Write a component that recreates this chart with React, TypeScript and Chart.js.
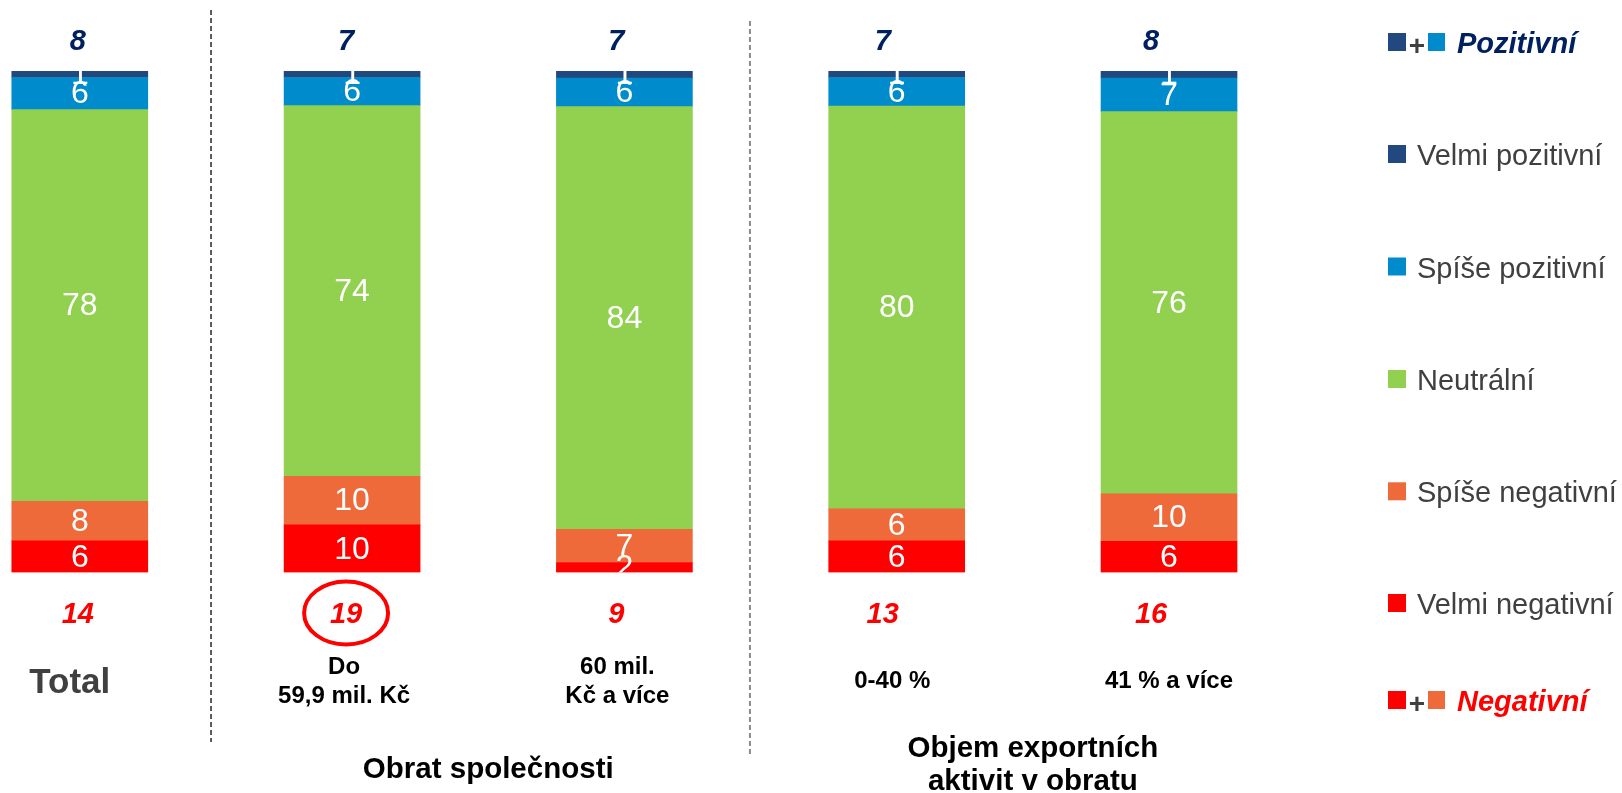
import React, { useEffect, useRef } from "react";
import { Chart, registerables } from "chart.js";

Chart.register(...registerables);

// ---------- data ----------
const categories: string[][] = [
  ["Total"],
  ["Do", "59,9 mil. Kč"],
  ["60 mil.", "Kč a více"],
  ["0-40 %"],
  ["41 % a více"],
];
const velmiPozitivni = [1.3, 1.3, 1.4, 1.3, 1.4];
const spisePozitivni = [6.4, 5.6, 5.7, 5.7, 6.7];
const neutralni = [78.1, 73.9, 84.3, 80.3, 76.2];
const spiseNegativni = [7.9, 9.7, 6.6, 6.4, 9.5];
const velmiNegativni = [6.3, 9.5, 2.0, 6.3, 6.2];

const groupLabels: string[][] = [["Obrat společnosti"], ["Objem exportních", "aktivit v obratu"]];
const groupMembers: number[][] = [[1, 2], [3, 4]];
const circledNegative = [1];

// ---------- styles ----------
const C_VPOS = "#22497F";
const C_SPOS = "#008CCC";
const C_NEU = "#92D050";
const C_SNEG = "#EE6A3A";
const C_VNEG = "#FF0000";
const C_NAVY = "#002060";
const C_GRAY = "#404040";
const FONT = '"Liberation Sans", Arial, Helvetica, sans-serif';

const seriesDefs = [
  { label: "Velmi negativní", values: velmiNegativni, color: C_VNEG },
  { label: "Spíše negativní", values: spiseNegativni, color: C_SNEG },
  { label: "Neutrální", values: neutralni, color: C_NEU },
  { label: "Spíše pozitivní", values: spisePozitivni, color: C_SPOS },
  { label: "Velmi pozitivní", values: velmiPozitivni, color: C_VPOS },
];

const legendItems = [
  { label: "Pozitivní", swatches: [C_VPOS, C_SPOS], total: C_NAVY },
  { label: "Velmi pozitivní", swatches: [C_VPOS] },
  { label: "Spíše pozitivní", swatches: [C_SPOS] },
  { label: "Neutrální", swatches: [C_NEU] },
  { label: "Spíše negativní", swatches: [C_SNEG] },
  { label: "Velmi negativní", swatches: [C_VNEG] },
  { label: "Negativní", swatches: [C_VNEG, C_SNEG], total: C_VNEG },
];
const legendRows = [42, 154, 266.5, 379, 491.3, 603, 700];
const totalShift = [-2, -6, -8, -14, -18];
const catShift = [-10, -8, -7, -4.5, 0];
const separators = [
  { at: 0.482, top: 10, bottom: 742, color: "#595959" },
  { at: 2.461, top: 21, bottom: 755, color: "#8C8C8C" },
];

function text(
  ctx: CanvasRenderingContext2D,
  s: string,
  x: number,
  y: number,
  font: string,
  color: string,
  align: CanvasTextAlign = "center"
) {
  ctx.save();
  ctx.font = font;
  ctx.fillStyle = color;
  ctx.textAlign = align;
  ctx.textBaseline = "alphabetic";
  ctx.fillText(s, x, y);
  ctx.restore();
}

const overlay = {
  id: "overlay",
  afterDatasetsDraw(chart: any) {
    const ctx: CanvasRenderingContext2D = chart.ctx;
    const xs = chart.scales.x;
    const area = chart.chartArea;

    // segment labels (clipped to plot area)
    ctx.save();
    ctx.beginPath();
    ctx.rect(area.left, area.top, area.right - area.left, area.bottom - area.top);
    ctx.clip();
    ctx.font = `32px ${FONT}`;
    ctx.fillStyle = "#FFFFFF";
    ctx.textAlign = "center";
    ctx.textBaseline = "middle";
    chart.data.datasets.forEach((ds: any, di: number) => {
      const meta = chart.getDatasetMeta(di);
      meta.data.forEach((el: any, i: number) => {
        const p = el.getProps(["x", "y", "base"], true);
        const v = ds.data[i].y;
        ctx.fillText(String(Math.round(v)), p.x, (p.y + p.base) / 2 + 1);
      });
    });
    ctx.restore();

    // separators
    separators.forEach((s) => {
      const x = xs.getPixelForValue(s.at);
      ctx.save();
      ctx.strokeStyle = s.color;
      ctx.lineWidth = 2;
      ctx.setLineDash([5, 3]);
      ctx.beginPath();
      ctx.moveTo(x, s.top);
      ctx.lineTo(x, s.bottom);
      ctx.stroke();
      ctx.restore();
    });

    categories.forEach((cat, i) => {
      const cx = xs.getPixelForValue(i);
      const pos = velmiPozitivni[i] + spisePozitivni[i];
      const neg = velmiNegativni[i] + spiseNegativni[i];
      const tx = cx + totalShift[i];
      text(ctx, String(Math.round(pos)), tx, 49.5, `italic bold 29px ${FONT}`, C_NAVY);
      text(ctx, String(Math.round(neg)), tx, 623, `italic bold 29px ${FONT}`, C_VNEG);
      if (circledNegative.includes(i)) {
        ctx.save();
        ctx.strokeStyle = C_VNEG;
        ctx.lineWidth = 4;
        ctx.beginPath();
        ctx.ellipse(tx, 613, 42, 31.5, 0, 0, Math.PI * 2);
        ctx.stroke();
        ctx.restore();
      }
      const lx = cx + catShift[i];
      if (i === 0) {
        text(ctx, cat[0], lx, 692.5, `bold 35px ${FONT}`, C_GRAY);
      } else {
        cat.forEach((line, j) => {
          const y = 688 + (j - (cat.length - 1) / 2) * 29;
          text(ctx, line, lx, y, `bold 24px ${FONT}`, "#000000");
        });
      }
    });

    // group labels
    groupLabels.forEach((lines, g) => {
      const [a, b] = groupMembers[g];
      const gx = (xs.getPixelForValue(a) + xs.getPixelForValue(b)) / 2;
      const startY = lines.length === 1 ? 778 : 757;
      lines.forEach((line, j) => {
        text(ctx, line, gx, startY + j * 33, `bold 29.5px ${FONT}`, "#000000");
      });
    });

    // legend
    const LX = 1388;
    const SQ = 18;
    legendItems.forEach((it, k) => {
      const cy = legendRows[k];
      if (it.swatches.length === 2) {
        ctx.fillStyle = it.swatches[0];
        ctx.fillRect(LX, cy - 9, SQ, SQ);
        text(ctx, "+", LX + 29, cy + 13, `bold 28px ${FONT}`, C_GRAY);
        ctx.fillStyle = it.swatches[1];
        ctx.fillRect(LX + 40, cy - 9, 17, SQ);
        text(ctx, it.label, LX + 69, cy + 11, `italic bold 29px ${FONT}`, it.total as string, "left");
      } else {
        ctx.fillStyle = it.swatches[0];
        ctx.fillRect(LX, cy - 9, SQ, SQ);
        text(ctx, it.label, LX + 29, cy + 11, `29px ${FONT}`, C_GRAY, "left");
      }
    });
  },
};

export default function App() {
  const ref = useRef<HTMLCanvasElement>(null);
  useEffect(() => {
    const chart = new Chart(ref.current as HTMLCanvasElement, {
      type: "bar",
      data: {
        datasets: seriesDefs.map((s) => ({
          label: s.label,
          data: s.values.map((v, i) => ({ x: i, y: v })),
          backgroundColor: s.color,
          borderWidth: 0,
          barThickness: 136,
        })),
      },
      options: {
        animation: false,
        responsive: true,
        maintainAspectRatio: false,
        layout: { padding: { top: 71, bottom: 220.5, left: 0, right: 322 } },
        plugins: { legend: { display: false }, tooltip: { enabled: false } },
        scales: {
          x: {
            type: "linear",
            stacked: true,
            display: false,
            offset: false,
            grid: { offset: false },
            min: -0.293,
            max: 4.481,
          },
          y: { stacked: true, display: false, min: 0, max: 100 },
        },
      } as any,
      plugins: [overlay as any],
    });
    return () => chart.destroy();
  }, []);
  return (
    <div style={{ position: "fixed", left: 0, top: 0, width: 1622, height: 793, background: "#fff" }}>
      <canvas ref={ref} />
    </div>
  );
}
